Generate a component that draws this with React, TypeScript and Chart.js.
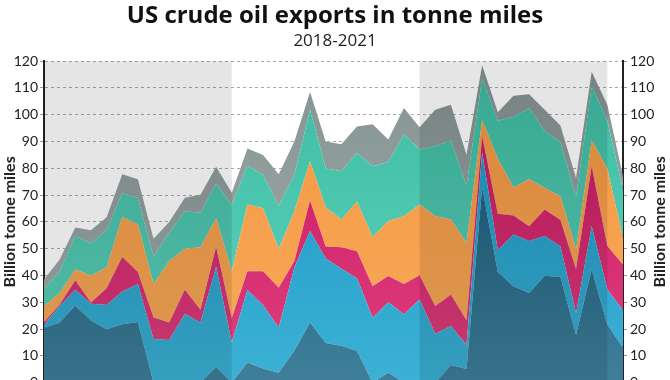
import React, { useEffect, useRef } from 'react';
import { Chart, registerables } from 'chart.js';

Chart.register(...registerables);

const months = [
  'Jan 2018', 'Feb 2018', 'Mar 2018', 'Apr 2018', 'May 2018', 'Jun 2018', 'Jul 2018', 'Aug 2018', 'Sep 2018', 'Oct 2018', 'Nov 2018', 'Dec 2018',
  'Jan 2019', 'Feb 2019', 'Mar 2019', 'Apr 2019', 'May 2019', 'Jun 2019', 'Jul 2019', 'Aug 2019', 'Sep 2019', 'Oct 2019', 'Nov 2019', 'Dec 2019',
  'Jan 2020', 'Feb 2020', 'Mar 2020', 'Apr 2020', 'May 2020', 'Jun 2020', 'Jul 2020', 'Aug 2020', 'Sep 2020', 'Oct 2020', 'Nov 2020', 'Dec 2020',
  'Jan 2021', 'Feb 2021',
];

const series1 = [20.5, 22.4, 28.8, 23.2, 19.9, 21.8, 22.6, 0, 0, 0, 0, 5.8, 0, 7.5, 5.3, 3.7, 12, 22.4, 14.8, 13.8, 11.8, 0, 3.7, 0, 0, 0, 6.6, 5.1, 73, 41.3, 36, 33.5, 39.9, 39.4, 17.8, 42.3, 21.7, 13];
const series2 = [1.0, 6.2, 5.9, 6.2, 9.1, 12.2, 14.2, 16.3, 15.9, 25.7, 22.4, 37.5, 15, 27.1, 23.6, 16.8, 31, 34.2, 31.5, 28.7, 27.2, 24.2, 26.3, 25.5, 31, 18.2, 14.5, 9, 13, 8.1, 19.3, 19.4, 14.8, 11.5, 8.1, 16.2, 13.1, 14];
const series3 = [1.0, 0.6, 3.5, 0.5, 6.2, 12.9, 4.5, 8, 6.5, 9, 4.8, 7.4, 9.1, 7, 12.7, 14.9, 2.4, 11.4, 4.5, 8, 10, 11.8, 9.8, 11.3, 9.1, 10.4, 11.7, 9.2, 6, 13.6, 7.1, 5.5, 9.9, 9.8, 16.5, 22.3, 16.2, 17];
const series4 = [6, 4.3, 4, 10.1, 7.8, 14.9, 17.7, 12.5, 23, 15.3, 23.3, 10.8, 17.5, 24.9, 23.5, 14.5, 18.6, 14.6, 14.7, 10.4, 18.5, 18.4, 20.5, 25.3, 26.4, 33.6, 28.1, 28.9, 6, 20.6, 10.4, 17.5, 8.1, 8.9, 7.3, 9.7, 28.8, 10];
const series5 = [6.5, 8.1, 12.6, 12, 14, 8.9, 10, 10.2, 10.6, 14, 12.9, 12.8, 24.7, 14.5, 12.4, 16, 13.7, 19.3, 14.5, 18, 18.2, 26.4, 22.1, 30.5, 20.6, 26, 29.6, 21.4, 15.5, 14.2, 26.4, 26.6, 21.2, 20.1, 19.7, 20.1, 18, 18];
const series6 = [3.5, 4.4, 3.1, 4.9, 4.7, 7.1, 6.9, 6.7, 4, 5, 6.7, 6.3, 4.6, 6.4, 7.5, 11.9, 12.3, 6.6, 10, 10.1, 9.9, 15.7, 8.4, 9.9, 8.2, 13.7, 13.2, 11.5, 5, 3.1, 7.9, 5.2, 8, 6.3, 7, 5.5, 5.9, 5];

// shaded year bands (start/end category index)
const shadedRanges = [[0, 12], [24, 36]];

const yTicksMin = 0;
const yTicksMax = 120;
const yStep = 10;

export default function App() {
  const ref = useRef<HTMLCanvasElement>(null);

  useEffect(() => {
    if (!ref.current) return;

    const grad = (top: string, bottom: string) => (ctx: any) => {
      const chart = ctx.chart;
      const area = chart.chartArea;
      if (!area) return bottom;
      const g = chart.ctx.createLinearGradient(0, area.top, 0, area.bottom);
      g.addColorStop(0, top);
      g.addColorStop(1, bottom);
      return g;
    };

    const bandPlugin = {
      id: 'bands',
      afterDatasetsDraw(chart: any) {
        const { ctx, chartArea, scales } = chart;
        const x = scales.x;
        ctx.save();
        ctx.fillStyle = 'rgba(0,0,0,0.1)';
        shadedRanges.forEach(([a, b]) => {
          const x0 = x.getPixelForValue(a);
          const x1 = x.getPixelForValue(b);
          ctx.fillRect(x0, chartArea.top, x1 - x0, chartArea.bottom - chartArea.top);
        });
        ctx.restore();
      },
      afterDraw(chart: any) {
        const { ctx, chartArea } = chart;
        ctx.save();
        ctx.translate(chart.width - 10, (chartArea.top + chartArea.bottom) / 2);
        ctx.rotate(-Math.PI / 2);
        ctx.font = 'bold 16px Lato';
        ctx.fillStyle = '#222';
        ctx.textAlign = 'center';
        ctx.textBaseline = 'middle';
        ctx.fillText('Billion tonne miles', 0, 0);
        ctx.restore();
      },
    };

    const mk = (label: string, data: number[], top: string, bottom: string, fill: any) => ({
      label,
      data,
      backgroundColor: grad(top, bottom),
      borderColor: 'rgba(0,0,0,0)',
      borderWidth: 0,
      pointRadius: 0,
      pointHoverRadius: 0,
      tension: 0,
      fill,
    });

    const tickFont = { family: 'Lato', size: 14 };

    const chart = new Chart(ref.current, {
      type: 'line',
      data: {
        labels: months,
        datasets: [
          mk('Series 1', series1, '#0c5273', '#3f7f9a', 'origin'),
          mk('Series 2', series2, '#1693c2', '#3cb1d5', '-1'),
          mk('Series 3', series3, '#c60f5c', '#e0427f', '-1'),
          mk('Series 4', series4, '#f4963f', '#f8ab5c', '-1'),
          mk('Series 5', series5, '#3cbca2', '#62d3be', '-1'),
          mk('Series 6', series6, '#849292', '#a8b2b2', '-1'),
        ],
      },
      options: {
        animation: false,
        responsive: true,
        maintainAspectRatio: false,
        layout: { padding: { left: 0, right: 0, top: 0, bottom: 9 } },
        plugins: {
          legend: { display: false },
          tooltip: { enabled: false },
          title: {
            display: true,
            text: 'US crude oil exports in tonne miles',
            font: { family: 'Open Sans', size: 24, weight: 'bold' },
            color: '#111',
            padding: { top: 2, bottom: 0 },
          },
          subtitle: {
            display: true,
            text: '2018-2021',
            font: { family: 'Open Sans', size: 17 },
            color: '#222',
            padding: { top: 0, bottom: 10 },
          },
        },
        scales: {
          x: {
            type: 'category',
            display: false,
            offset: false,
          },
          y: {
            position: 'left',
            stacked: true,
            min: yTicksMin,
            max: yTicksMax,
            ticks: { stepSize: yStep, font: tickFont, color: '#222', padding: 2 },
            grid: {
              color: '#a8a8a8',
              tickColor: '#999',
              tickLength: 4,
              lineWidth: 1,
            } as any,
            border: { display: true, color: '#222', width: 2, dash: [3, 3] } as any,
            title: {
              display: true,
              text: 'Billion tonne miles',
              font: { family: 'Lato', size: 16, weight: 'bold' },
              color: '#222',
              padding: { top: 0, bottom: 0 },
            },
            afterFit(scale: any) { scale.width = 44; },
          },
          y2: {
            position: 'right',
            min: yTicksMin,
            max: yTicksMax,
            ticks: { stepSize: yStep, font: tickFont, color: '#222', padding: 3 },
            grid: { drawOnChartArea: false, tickColor: '#999', tickLength: 4 },
            border: { display: true, color: '#222', width: 2 },
            afterFit(scale: any) { scale.width = 47; },
          },
        },
      } as any,
      plugins: [bandPlugin],
    });

    return () => chart.destroy();
  }, []);

  return (
    <div style={{ position: 'absolute', left: 0, top: 0, width: 670, height: 380, overflow: 'hidden', background: '#fff' }}>
      <div style={{ position: 'relative', width: 670, height: 394 }}>
        <canvas ref={ref} />
      </div>
    </div>
  );
}
